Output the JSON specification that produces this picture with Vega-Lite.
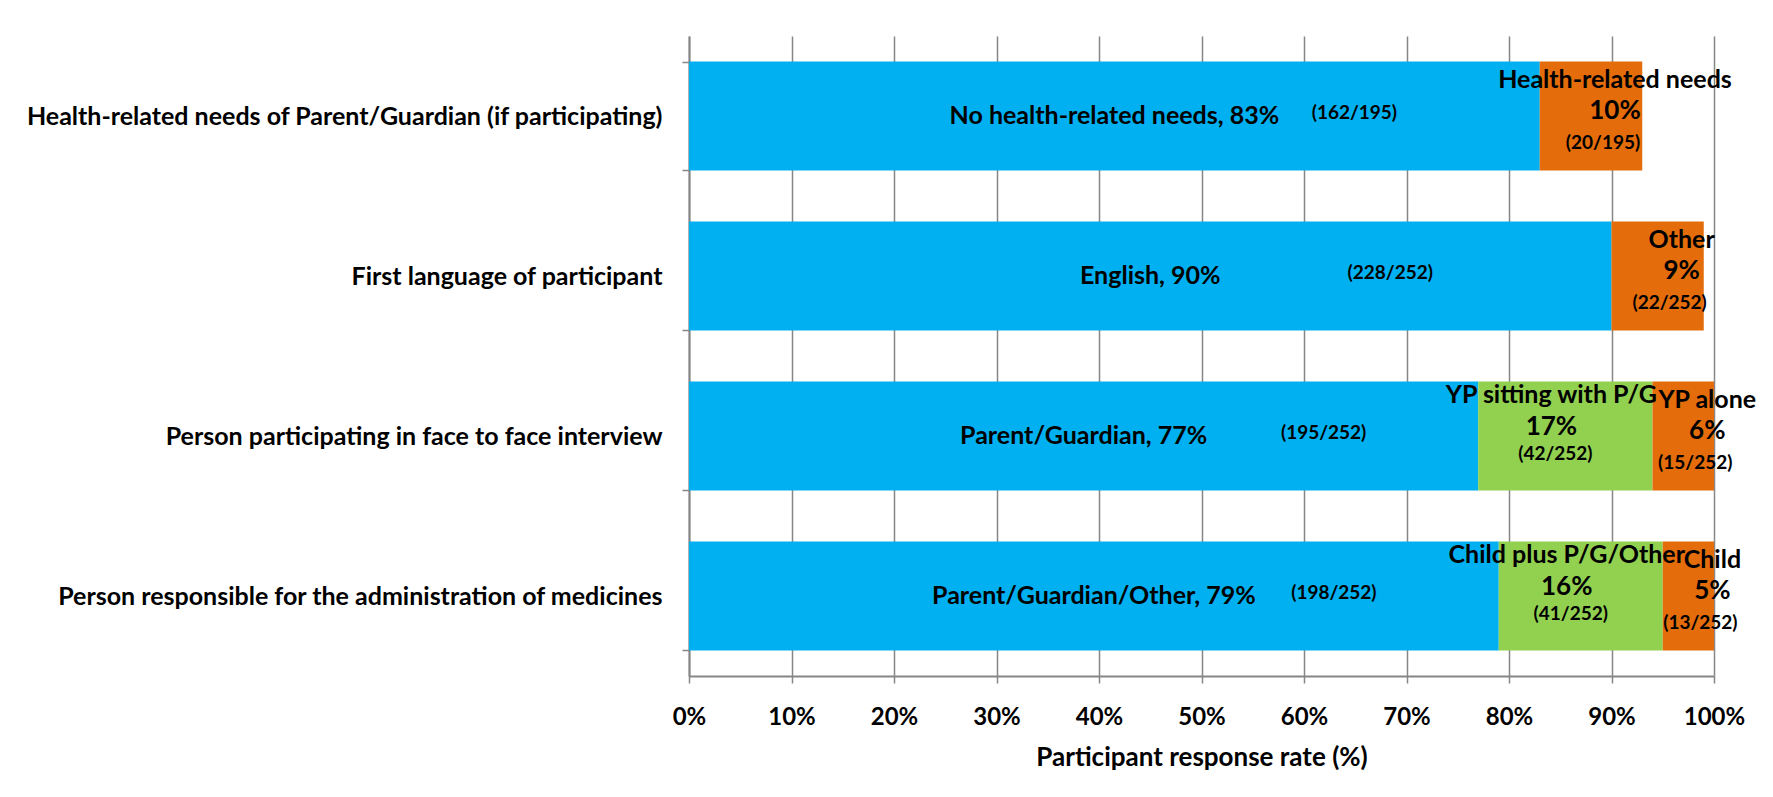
{
  "$schema": "https://vega.github.io/schema/vega-lite/v6.json",
  "width": 1025,
  "height": 640,
  "autosize": {"type": "none"},
  "padding": {"left": 689, "top": 36, "right": 59, "bottom": 121},
  "background": "white",
  "config": {
    "view": {"stroke": null},
    "font": "Lato",
    "text": {"font": "Lato", "fontWeight": "bold", "color": "black"}
  },
  "data": {
    "values": [
      {"q": "Health-related needs of Parent/Guardian (if participating)", "seg": 1, "name": "No health-related needs", "pct": 83, "fullLabel": "No health-related needs, 83%", "pctText": "83%", "countText": "(162/195)"},
      {"q": "Health-related needs of Parent/Guardian (if participating)", "seg": 3, "name": "Health-related needs", "pct": 10, "fullLabel": "Health-related needs, 10%", "pctText": "10%", "countText": "(20/195)"},
      {"q": "First language of participant", "seg": 1, "name": "English", "pct": 90, "fullLabel": "English, 90%", "pctText": "90%", "countText": "(228/252)"},
      {"q": "First language of participant", "seg": 3, "name": "Other", "pct": 9, "fullLabel": "Other, 9%", "pctText": "9%", "countText": "(22/252)"},
      {"q": "Person participating in face to face interview", "seg": 1, "name": "Parent/Guardian", "pct": 77, "fullLabel": "Parent/Guardian, 77%", "pctText": "77%", "countText": "(195/252)"},
      {"q": "Person participating in face to face interview", "seg": 2, "name": "YP sitting with P/G", "pct": 17, "fullLabel": "YP sitting with P/G, 17%", "pctText": "17%", "countText": "(42/252)"},
      {"q": "Person participating in face to face interview", "seg": 3, "name": "YP alone", "pct": 6, "fullLabel": "YP alone, 6%", "pctText": "6%", "countText": "(15/252)"},
      {"q": "Person responsible for the administration of medicines", "seg": 1, "name": "Parent/Guardian/Other", "pct": 79, "fullLabel": "Parent/Guardian/Other, 79%", "pctText": "79%", "countText": "(198/252)"},
      {"q": "Person responsible for the administration of medicines", "seg": 2, "name": "Child plus P/G/Other", "pct": 16, "fullLabel": "Child plus P/G/Other, 16%", "pctText": "16%", "countText": "(41/252)"},
      {"q": "Person responsible for the administration of medicines", "seg": 3, "name": "Child", "pct": 5, "fullLabel": "Child, 5%", "pctText": "5%", "countText": "(13/252)"}
    ]
  },
  "encoding": {
    "y": {
      "field": "q",
      "type": "nominal",
      "sort": [
        "Health-related needs of Parent/Guardian (if participating)",
        "First language of participant",
        "Person participating in face to face interview",
        "Person responsible for the administration of medicines"
      ],
      "scale": {"paddingInner": 0.32, "paddingOuter": 0.16},
      "axis": {
        "title": null,
        "labelFont": "Lato",
        "labelFontSize": 25,
        "labelFontWeight": "bold",
        "labelColor": "black",
        "labelLimit": 0,
        "labelPadding": 20,
        "tickBand": "extent",
        "tickSize": 7,
        "tickColor": "#868686",
        "tickWidth": 1.5,
        "domainColor": "#868686",
        "domainWidth": 2
      }
    },
    "x": {
      "field": "pct",
      "type": "quantitative",
      "stack": "zero",
      "scale": {"domain": [0, 100], "nice": false},
      "axis": {
        "title": "Participant response rate (%)",
        "titleFont": "Lato",
        "titleFontSize": 26,
        "titleFontWeight": "bold",
        "titleColor": "black",
        "titlePadding": 15,
        "values": [0, 10, 20, 30, 40, 50, 60, 70, 80, 90, 100],
        "labelExpr": "datum.value + '%'",
        "labelFlush": false,
        "labelFont": "Lato",
        "labelFontSize": 24,
        "labelFontWeight": "bold",
        "labelColor": "black",
        "labelPadding": 22,
        "grid": true,
        "gridColor": "#868686",
        "gridWidth": 1.5,
        "tickSize": 7,
        "tickColor": "#868686",
        "tickWidth": 1.5,
        "domainColor": "#868686",
        "domainWidth": 2
      }
    },
    "order": {"field": "seg", "type": "quantitative"},
    "detail": {"field": "seg", "type": "nominal"}
  },
  "layer": [
    {
      "mark": {"type": "bar"},
      "encoding": {
        "color": {
          "field": "seg",
          "type": "nominal",
          "scale": {"domain": [1, 2, 3], "range": ["#00B0F0", "#92D050", "#E46C0A"]},
          "legend": null
        }
      }
    },
    {
      "mark": {"type": "text", "fontSize": 25, "fontWeight": "bold", "baseline": "middle"},
      "encoding": {
        "x": {"field": "pct", "type": "quantitative", "stack": "zero", "bandPosition": 0.5},
        "text": {"condition": {"test": "datum.seg == 1", "field": "fullLabel"}, "value": ""}
      }
    },
    {
      "mark": {"type": "text", "fontSize": 19, "fontWeight": "bold", "baseline": "middle", "dx": 240, "dy": -3},
      "encoding": {
        "x": {"field": "pct", "type": "quantitative", "stack": "zero", "bandPosition": 0.5},
        "text": {"condition": {"test": "datum.seg == 1", "field": "countText"}, "value": ""}
      }
    },
    {
      "mark": {"type": "text", "fontSize": 25, "fontWeight": "bold", "baseline": "middle", "dy": -41, "dx": -14},
      "encoding": {
        "x": {"field": "pct", "type": "quantitative", "stack": "zero", "bandPosition": 0.5},
        "text": {"condition": {"test": "datum.seg == 2", "field": "name"}, "value": ""}
      }
    },
    {
      "mark": {"type": "text", "fontSize": 25, "fontWeight": "bold", "baseline": "middle", "dy": -36, "dx": 24},
      "encoding": {
        "x": {"field": "pct", "type": "quantitative", "stack": "zero", "bandPosition": 0.5},
        "text": {"condition": {"test": "datum.seg == 3", "field": "name"}, "value": ""}
      }
    },
    {
      "mark": {"type": "text", "fontSize": 26, "fontWeight": "bold", "baseline": "middle", "dy": -9, "dx": -14},
      "encoding": {
        "x": {"field": "pct", "type": "quantitative", "stack": "zero", "bandPosition": 0.5},
        "text": {"condition": {"test": "datum.seg == 2", "field": "pctText"}, "value": ""}
      }
    },
    {
      "mark": {"type": "text", "fontSize": 26, "fontWeight": "bold", "baseline": "middle", "dy": -5, "dx": 24},
      "encoding": {
        "x": {"field": "pct", "type": "quantitative", "stack": "zero", "bandPosition": 0.5},
        "text": {"condition": {"test": "datum.seg == 3", "field": "pctText"}, "value": ""}
      }
    },
    {
      "mark": {"type": "text", "fontSize": 19, "fontWeight": "bold", "baseline": "middle", "dy": 18, "dx": -10},
      "encoding": {
        "x": {"field": "pct", "type": "quantitative", "stack": "zero", "bandPosition": 0.5},
        "text": {"condition": {"test": "datum.seg == 2", "field": "countText"}, "value": ""}
      }
    },
    {
      "mark": {"type": "text", "fontSize": 19, "fontWeight": "bold", "baseline": "middle", "dy": 27, "dx": 12},
      "encoding": {
        "x": {"field": "pct", "type": "quantitative", "stack": "zero", "bandPosition": 0.5},
        "text": {"condition": {"test": "datum.seg == 3", "field": "countText"}, "value": ""}
      }
    }
  ]
}
